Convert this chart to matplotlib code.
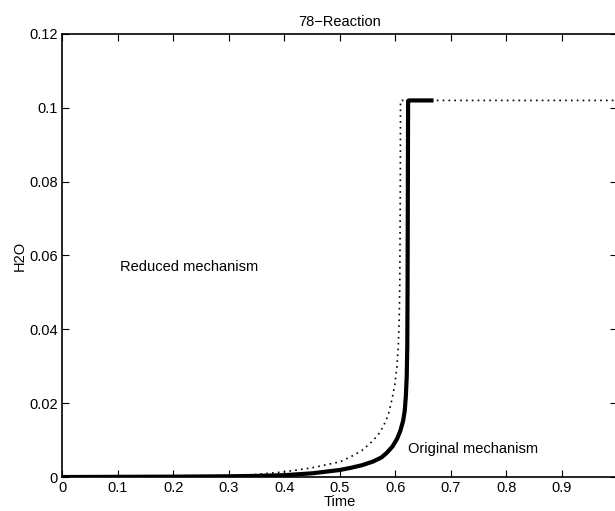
import matplotlib
matplotlib.use("Agg")
import matplotlib.pyplot as plt

plt.rcParams['font.family'] = ['Liberation Sans', 'DejaVu Sans']

# original mechanism (solid thick line)
t_orig = [0, 0.1, 0.2, 0.3, 0.35, 0.4, 0.45, 0.5, 0.52, 0.54, 0.56, 0.575, 0.585,
          0.595, 0.603, 0.609, 0.614, 0.617, 0.619, 0.6205, 0.6215, 0.622, 0.6225,
          0.623, 0.625, 0.665]
h2o_orig = [0, 0.00005, 0.0001, 0.0002, 0.0003, 0.0005, 0.001, 0.0019, 0.0025, 0.0032,
            0.0042, 0.0053, 0.0066, 0.0083, 0.0103, 0.0125, 0.0152, 0.018, 0.022,
            0.027, 0.035, 0.05, 0.075, 0.1019, 0.102, 0.102]

# reduced mechanism (dotted line)
t_red = [0, 0.1, 0.2, 0.3, 0.35, 0.4, 0.45, 0.5, 0.52, 0.54, 0.555, 0.568, 0.578,
         0.587, 0.594, 0.599, 0.603, 0.6055, 0.607, 0.608, 0.6085, 0.609, 0.6093,
         0.612, 0.7, 0.8, 1.0]
h2o_red = [0, 0.00005, 0.0001, 0.0003, 0.0007, 0.0014, 0.0025, 0.0041, 0.0055, 0.0072,
           0.0092, 0.0112, 0.0136, 0.0167, 0.021, 0.025, 0.030, 0.036, 0.043, 0.052,
           0.065, 0.08, 0.1019, 0.102, 0.102, 0.102, 0.102]

xticks = [0, 0.1, 0.2, 0.3, 0.4, 0.5, 0.6, 0.7, 0.8, 0.9, 1.0]
xlabels = ['0', '0.1', '0.2', '0.3', '0.4', '0.5', '0.6', '0.7', '0.8', '0.9', '']
yticks = [0, 0.02, 0.04, 0.06, 0.08, 0.1, 0.12]
ylabels = ['0', '0.02', '0.04', '0.06', '0.08', '0.1', '0.12']

fig = plt.figure(figsize=(6.15, 5.11), dpi=100)
ax = fig.add_axes([0.101, 0.0665, 0.903, 0.867])

ax.plot(t_red, h2o_red, color='k', linestyle=(0, (1, 2.5)), linewidth=1.2)
ax.plot(t_orig, h2o_orig, color='k', linestyle='-', linewidth=3)

ax.set_xlim(0, 1)
ax.set_ylim(0, 0.12)
ax.set_xticks(xticks)
ax.set_xticklabels(xlabels)
ax.set_yticks(yticks)
ax.set_yticklabels(ylabels)
ax.tick_params(direction='in', top=True, right=True, length=5, labelsize=10.5, pad=3)
for s in ax.spines.values():
    s.set_linewidth(1.2)

ax.text(0.105, 0.0569, 'Reduced mechanism', fontsize=10.5, va='center')
ax.text(0.623, 0.0076, 'Original mechanism', fontsize=10.5, va='center')

ax.set_title('78\u2212Reaction', fontsize=10.5, pad=6)
ax.set_xlabel('Time', fontsize=10.5, labelpad=0)
ax.set_ylabel('H2O', fontsize=10.5, labelpad=2)

fig.savefig('out.png', dpi=100)
